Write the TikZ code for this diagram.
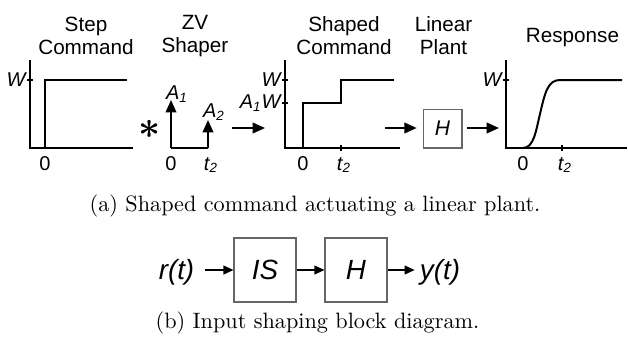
\documentclass[tikz,border=0pt]{standalone}
\usepackage{fontspec}
\newfontfamily\plotfont{Liberation Sans}
\usetikzlibrary{arrows.meta,positioning}

\begin{document}
\begin{tikzpicture}[x=0.45pt,y=-0.45pt,
	sig/.style={line width=0.9pt},
	head/.style={-{Triangle[length=5.6pt,width=4.8pt]}},
	thinhead/.style={line width=0.5pt, -{Triangle[length=4.5pt,width=4pt]}},
	title/.style={font=\plotfont\fontsize{9.3}{10.4}\selectfont, align=center},
	lab/.style={font=\plotfont\fontsize{9}{10}\selectfont, inner sep=0pt},
	blk/.style={draw=black!60, line width=0.5pt, inner sep=0pt,
		font=\plotfont\itshape\fontsize{12.5}{14}\selectfont}]
	\useasboundingbox (0,0) rectangle (628,345);

	% titles
	\node [title] (tstep) at (86,36) {Step\\Command};
	\node [title] (tzv) at (195,36) {ZV\\Shaper};
	\node [title] (tshaped) at (344,36) {Shaped\\Command};
	\node [title] (tplant) at (443.5,36) {Linear\\Plant};
	\node [title] (tresp) at (572.5,37.5) {Response};

	% step command
	\draw [sig] (30,60) -- (30,148) -- (133,148);
	\draw [sig] (45,148) -- (45,80) -- (127,80);
	\draw [sig] (27,80) -- (33,80);
	\node [lab, anchor=east] (w1) at (26,80) {\itshape W};
	\node [lab, anchor=base] (z1) at (45,170) {0};

	\node [font=\fontsize{19}{19}\selectfont\mathversion{bold}] (conv) at (150,129) {$\ast$};

	% zv shaper
	\draw [sig] (171,148) -- (208,148);
	\draw [sig, head] (171,148) -- (171,100);
	\draw [sig, head] (208,148) -- (208,120);
	\node [lab] (a1) at (177,94) {\itshape A\textsubscript{1}};
	\node [lab] (a2) at (214,112) {\itshape A\textsubscript{2}};
	\node [lab, anchor=base] (z2) at (171,170) {0};
	\node [lab, anchor=base] (t2a) at (211,170) {\itshape t\textsubscript{2}};

	\coordinate (c1) at (232,128);
	\coordinate (c2) at (265,128);
	\draw [sig, head] (c1) -- (c2);

	% shaped command
	\draw [sig] (285,60) -- (285,148) -- (400,148);
	\draw [sig] (303,148) -- (303,103) -- (341,103) -- (341,80) -- (394,80);
	\foreach \y in {80,103}
		\draw [sig] (282,\y) -- (288,\y);
	\draw [sig] (341,145) -- (341,151);
	\node [lab, anchor=east] (w3) at (281,80) {\itshape W};
	\node [lab, anchor=east] (a1w) at (281,103) {\itshape A\textsubscript{1}W};
	\node [lab, anchor=base] (z3) at (303,170) {0};
	\node [lab, anchor=base] (t2b) at (344,170) {\itshape t\textsubscript{2}};

	% linear plant
	\node [blk, minimum size=17.5pt, font=\plotfont\itshape\fontsize{9.5}{11}\selectfont]
		(plant) at (442.5,128.5) {H};
	\coordinate (c3) at (385,128);
	\coordinate (c4) at (499,128);
	\draw [sig, head, shorten >=2.6pt] (c3) -- (c3 -| plant.west);
	\draw [sig, head, shorten <=2.2pt] (c4 -| plant.east) -- (c4);

	% response
	\draw [sig] (506,60) -- (506,148) -- (627,148);
	\draw [sig] (503,80) -- (509,80);
	\draw [sig] (562,145) -- (562,151);
	\draw [sig] (523,148) .. controls (534,148) and (536,130) .. (540,114)
		.. controls (545,92) and (548,80) .. (560,80) -- (622,80);
	\node [lab, anchor=east] (w5) at (502,80) {\itshape W};
	\node [lab, anchor=base] (z5) at (523,170) {0};
	\node [lab, anchor=base] (t2c) at (565,170) {\itshape t\textsubscript{2}};

	\node [anchor=base, font=\fontsize{10}{12}\selectfont] (capa) at (315,211)
		{(a) Shaped command actuating a linear plant.};

	% block diagram
	\node [blk, minimum width=27.9pt, minimum height=28.8pt] (shaper) at (265,270) {IS};
	\node [blk, minimum width=27.9pt, minimum height=28.8pt] (sys) at (356,270) {H};
	\node [font=\plotfont\itshape\fontsize{12.5}{14}\selectfont, inner sep=4.5pt]
		(r) at (176.5,272) {r(t)};
	\node [font=\plotfont\itshape\fontsize{12.5}{14}\selectfont, inner sep=2.2pt]
		(y) at (440,272) {y(t)};
	\draw [thinhead] (r.east |- shaper.west) -- (shaper.west);
	\draw [thinhead] (shaper) -- (sys);
	\draw [thinhead] (sys.east) -- (y.west |- sys.east);

	\node [anchor=base, font=\fontsize{10}{12}\selectfont] (capb) at (317.5,328)
		{(b) Input shaping block diagram.};
\end{tikzpicture}
\end{document}
